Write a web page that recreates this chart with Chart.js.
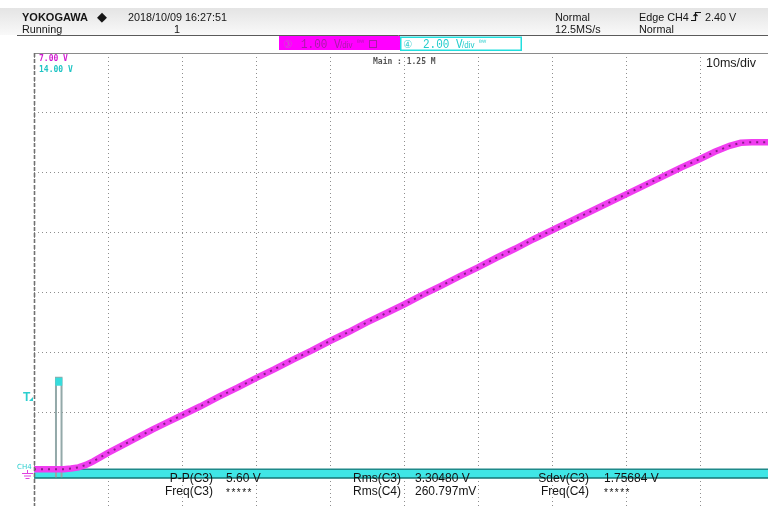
<!DOCTYPE html>
<html>
<head>
<meta charset="utf-8">
<script src="https://cdn.jsdelivr.net/npm/chart.js@4.4.1/dist/chart.umd.min.js"></script>
<style>
  html, body { margin: 0; padding: 0; background: #fff; overflow: hidden; width: 768px; height: 506px; }
  #wrap { position: relative; width: 780px; height: 540px; }
</style>
</head>
<body>
<div id="wrap"><canvas id="scope" width="780" height="540"></canvas></div>
<script>
// CH3 record: time in ms from the left edge of the screen, level in volts (1 V/div)
const ch3TimeMs = [0, 2, 4, 5, 6, 7, 8, 9, 10, 12, 14, 16, 18, 20, 22.5, 25, 27.5, 30, 32.5, 35, 37.5,
  40, 42.5, 45, 47.5, 50, 52.5, 55, 57.5, 60, 62.5, 65, 67.5, 70, 72.5, 75, 77.5, 80, 82.5, 85,
  87.5, 90, 92, 94, 95.5, 97, 100];
const ch3Volts = [0.05, 0.05, 0.05, 0.06, 0.08, 0.12, 0.18, 0.25, 0.32, 0.45, 0.58, 0.71, 0.83, 0.95, 1.10,
  1.26, 1.41, 1.57, 1.72, 1.88, 2.03, 2.19, 2.34, 2.50, 2.65, 2.80, 2.96, 3.11, 3.27, 3.42, 3.58,
  3.73, 3.89, 4.04, 4.19, 4.34, 4.49, 4.64, 4.79, 4.94, 5.09, 5.23, 5.35, 5.45, 5.50, 5.51, 5.51];

// CH4 record (2 V/div): noise envelope of the idle line
const ch4TimeMs = [0, 100];
const ch4HighVolts = [0.10, 0.10];
const ch4LowVolts = [-0.17, -0.17];

// CH4 trigger pulse
const pulseTimeMs = [2.97, 2.97, 3.72, 3.72];
const pulseVolts = [-0.17, 3.15, 3.15, -0.17];
const pulseTopTimeMs = [2.88, 3.82];
const pulseTopVolts = [3.02, 3.02];

// Screen divisions
const timeDivMs = [0, 10, 20, 30, 40, 50, 60, 70, 80, 90, 100];
const ch3DivVolts = [-1, 0, 1, 2, 3, 4, 5, 6, 7];
const ch4Range = [-2, 14];

// Header and readout texts
const headerRow1 = { brand: 'YOKOGAWA', stamp: '2018/10/09 16:27:51', mode: 'Normal', trig: 'Edge CH4', level: '2.40 V' };
const headerRow2 = { state: 'Running', count: '1', rate: '12.5MS/s', trigMode: 'Normal' };
const ch3Label = { num: '③', scale: '1.00 V', per: '/div', top: '7.00 V' };
const ch4Label = { num: '④', scale: '2.00 V', per: '/div', top: '14.00 V' };
const zoomText = 'Main : 1.25 M';
const timeBaseText = '10ms/div';
const measureNames = [['P-P(C3)', 'Rms(C3)', 'Sdev(C3)'], ['Freq(C3)', 'Rms(C4)', 'Freq(C4)']];
const measureValues = [['5.60 V', '3.30480 V', '1.75684 V'], ['*****', '260.797mV', '*****']];

const MAGENTA = '#f03ef0';
const CYAN = '#3fe6e6';

const pts = (xs, ys) => xs.map((x, i) => ({ x, y: ys[i] }));

const scopeDecor = {
  id: 'scopeDecor',
  beforeDraw(chart) {
    const ctx = chart.ctx;
    ctx.save();
    ctx.fillStyle = '#ffffff';
    ctx.fillRect(0, 0, chart.width, chart.height);
    // header band
    const g = ctx.createLinearGradient(0, 8, 0, 35);
    g.addColorStop(0, '#e4e4e4');
    g.addColorStop(1, '#f9f9f9');
    ctx.fillStyle = g;
    ctx.fillRect(0, 8, 768, 27);
    ctx.strokeStyle = '#5a5a5a';
    ctx.lineWidth = 1;
    ctx.beginPath();
    ctx.moveTo(17, 35.5);
    ctx.lineTo(780, 35.5);
    ctx.stroke();
    ctx.restore();
  },
  afterDraw(chart) {
    const ctx = chart.ctx;
    const a = chart.chartArea;
    ctx.save();

    // screen frame: solid top, dashed left
    ctx.strokeStyle = '#8a8a8a';
    ctx.lineWidth = 1;
    ctx.beginPath();
    ctx.moveTo(a.left, a.top + 0.5);
    ctx.lineTo(a.right, a.top + 0.5);
    ctx.stroke();
    ctx.strokeStyle = '#707070';
    ctx.lineWidth = 1.6;
    ctx.setLineDash([4, 2]);
    ctx.beginPath();
    ctx.moveTo(a.left + 0.5, a.top);
    ctx.lineTo(a.left + 0.5, a.bottom);
    ctx.stroke();
    ctx.setLineDash([]);

    // header texts
    ctx.fillStyle = '#151515';
    ctx.textBaseline = 'alphabetic';
    ctx.font = 'bold 11px "Liberation Sans", Arial, sans-serif';
    ctx.fillText(headerRow1.brand, 22, 21);
    ctx.font = '13px "DejaVu Sans", sans-serif';
    ctx.fillText('◆', 97, 21);
    ctx.font = '10.8px "Liberation Sans", Arial, sans-serif';
    ctx.fillText(headerRow1.stamp, 128, 21);
    ctx.fillText(headerRow1.mode, 555, 21);
    ctx.fillText(headerRow1.trig, 639, 21);
    ctx.fillText(headerRow1.level, 705, 21);
    ctx.fillText(headerRow2.state, 22, 33);
    ctx.fillText(headerRow2.count, 174, 33);
    ctx.fillText(headerRow2.rate, 555, 33);
    ctx.fillText(headerRow2.trigMode, 639, 33);
    // rising-edge icon
    ctx.strokeStyle = '#151515';
    ctx.lineWidth = 1.2;
    ctx.beginPath();
    ctx.moveTo(691, 20.5); ctx.lineTo(695.5, 20.5); ctx.lineTo(695.5, 12.5); ctx.lineTo(701, 12.5);
    ctx.moveTo(693.5, 16); ctx.lineTo(695.5, 14); ctx.lineTo(697.5, 16);
    ctx.stroke();

    // channel setting boxes
    ctx.fillStyle = '#ff00ff';
    ctx.fillRect(279, 36, 121, 14);
    ctx.fillStyle = '#ffffff';
    ctx.fillRect(400, 36.5, 122, 14);
    ctx.strokeStyle = '#22dede';
    ctx.lineWidth = 1.5;
    ctx.strokeRect(400.75, 37.25, 120.5, 13);

    const drawTall = (txt, x, y, font, color, sy) => {
      ctx.save();
      ctx.translate(x, y);
      ctx.scale(1, sy);
      ctx.font = font;
      ctx.fillStyle = color;
      ctx.fillText(txt, 0, 0);
      ctx.restore();
    };
    const mono = '11px "Liberation Mono", "DejaVu Sans Mono", monospace';
    drawTall(ch3Label.num, 283, 48, '10px "DejaVu Sans", sans-serif', '#c060c0', 1.1);
    drawTall(ch3Label.scale, 301, 48, mono, '#a81ca8', 1.2);
    drawTall(ch3Label.per, 340, 48, '8px "Liberation Sans", sans-serif', '#a81ca8', 1.1);
    drawTall('ᴮᵂ', 357, 45, '7px "DejaVu Sans", sans-serif', '#a81ca8', 1);
    ctx.strokeStyle = '#a81ca8'; ctx.lineWidth = 1;
    ctx.strokeRect(369.5, 40.5, 7, 7);
    drawTall(ch4Label.num, 403, 48, '10px "DejaVu Sans", sans-serif', '#3ad0d0', 1.1);
    drawTall(ch4Label.scale, 423, 48, mono, '#22cccc', 1.2);
    drawTall(ch4Label.per, 462, 48, '8px "Liberation Sans", sans-serif', '#22cccc', 1.1);
    drawTall('ᴮᵂ', 479, 45, '7px "DejaVu Sans", sans-serif', '#22cccc', 1);

    // on-screen labels
    ctx.font = 'bold 8px "DejaVu Sans Mono", monospace';
    ctx.fillStyle = '#d21cd2';
    ctx.fillText(ch3Label.top, 39, 60.5);
    ctx.fillStyle = '#1fc4c4';
    ctx.fillText(ch4Label.top, 39, 71.5);
    ctx.font = 'bold 8px "DejaVu Sans Mono", monospace';
    ctx.fillStyle = '#555555';
    ctx.fillText(zoomText, 373, 63.5);
    ctx.font = '12.5px "Liberation Sans", Arial, sans-serif';
    ctx.fillStyle = '#1a1a1a';
    ctx.fillText(timeBaseText, 706, 67);

    // trigger level marker and CH4 ground marker
    ctx.fillStyle = '#2ccfcf';
    ctx.font = 'bold 12px "Liberation Sans", sans-serif';
    ctx.fillText('T', 23, 401);
    ctx.beginPath();
    ctx.moveTo(29, 401); ctx.lineTo(33, 401); ctx.lineTo(33, 397); ctx.closePath();
    ctx.fill();
    ctx.font = '7px "DejaVu Sans", sans-serif';
    ctx.fillText('CH4', 17, 468.5);
    ctx.strokeStyle = '#e040e0';
    ctx.lineWidth = 1;
    ctx.beginPath();
    ctx.moveTo(27.5, 470); ctx.lineTo(27.5, 473);
    ctx.moveTo(22, 473.5); ctx.lineTo(33, 473.5);
    ctx.moveTo(24, 476); ctx.lineTo(31, 476);
    ctx.moveTo(25.5, 478.5); ctx.lineTo(29.5, 478.5);
    ctx.stroke();

    // measurement readout
    ctx.fillStyle = '#141414';
    const nameRight = [213, 401, 589];
    const valueLeft = [226, 415, 604];
    const rowBase = [481.5, 494.5];
    measureNames.forEach((row, r) => {
      row.forEach((name, c) => {
        ctx.font = '12px "Liberation Sans", Arial, sans-serif';
        ctx.textAlign = 'right';
        ctx.fillText(name, nameRight[c], rowBase[r]);
        ctx.textAlign = 'left';
        const v = measureValues[r][c];
        if (v.startsWith('*')) {
          ctx.font = '10px "Liberation Sans", Arial, sans-serif';
          ctx.letterSpacing = '1.5px';
          ctx.fillText(v, valueLeft[c], rowBase[r] + 1);
          ctx.letterSpacing = '0px';
        } else {
          ctx.fillText(v, valueLeft[c], rowBase[r]);
        }
      });
    });
    ctx.restore();
  }
};

new Chart(document.getElementById('scope'), {
  type: 'line',
  data: {
    datasets: [
      {
        label: 'CH3 samples',
        data: pts(ch3TimeMs, ch3Volts),
        yAxisID: 'y',
        borderColor: 'rgba(110, 20, 110, 0.8)',
        borderWidth: 2,
        borderDash: [2, 5],
        pointRadius: 0,
        tension: 0,
        fill: false
      },
      {
        label: 'CH3',
        data: pts(ch3TimeMs, ch3Volts),
        yAxisID: 'y',
        borderColor: MAGENTA,
        borderWidth: 6.5,
        pointRadius: 0,
        tension: 0,
        fill: false
      },
      {
        label: 'CH4 pulse top',
        data: pts(pulseTopTimeMs, pulseTopVolts),
        yAxisID: 'y4',
        borderColor: '#36dcdc',
        borderWidth: 8,
        borderCapStyle: 'butt',
        pointRadius: 0,
        fill: false
      },
      {
        label: 'CH4 pulse',
        data: pts(pulseTimeMs, pulseVolts),
        yAxisID: 'y4',
        borderColor: '#93a9a9',
        borderWidth: 2,
        pointRadius: 0,
        fill: false
      },
      {
        label: 'CH4 high',
        data: pts(ch4TimeMs, ch4HighVolts),
        yAxisID: 'y4',
        borderColor: '#1e8a8a',
        borderWidth: 1.5,
        backgroundColor: CYAN,
        pointRadius: 0,
        fill: '+1'
      },
      {
        label: 'CH4 low',
        data: pts(ch4TimeMs, ch4LowVolts),
        yAxisID: 'y4',
        borderColor: '#157575',
        borderWidth: 3,
        pointRadius: 0,
        fill: false
      }
    ]
  },
  options: {
    responsive: false,
    devicePixelRatio: 1,
    animation: false,
    layout: { padding: { left: 34, top: 53, right: 6, bottom: 8 } },
    plugins: { legend: { display: false }, tooltip: { enabled: false } },
    scales: {
      x: {
        type: 'linear',
        min: timeDivMs[0],
        max: timeDivMs[timeDivMs.length - 1],
        afterBuildTicks: s => { s.ticks = timeDivMs.map(v => ({ value: v })); },
        ticks: { display: false },
        grid: { color: '#8e8e8e', lineWidth: 1, drawTicks: false },
        border: { display: false, dash: [1, 3] }
      },
      y: {
        type: 'linear',
        min: ch3DivVolts[0],
        max: ch3DivVolts[ch3DivVolts.length - 1],
        afterBuildTicks: s => { s.ticks = ch3DivVolts.map(v => ({ value: v })); },
        ticks: { display: false },
        grid: { color: '#8e8e8e', lineWidth: 1, drawTicks: false },
        border: { display: false, dash: [1, 3] }
      },
      y4: {
        type: 'linear',
        display: false,
        min: ch4Range[0],
        max: ch4Range[1]
      }
    }
  },
  plugins: [scopeDecor]
});
</script>
</body>
</html>
